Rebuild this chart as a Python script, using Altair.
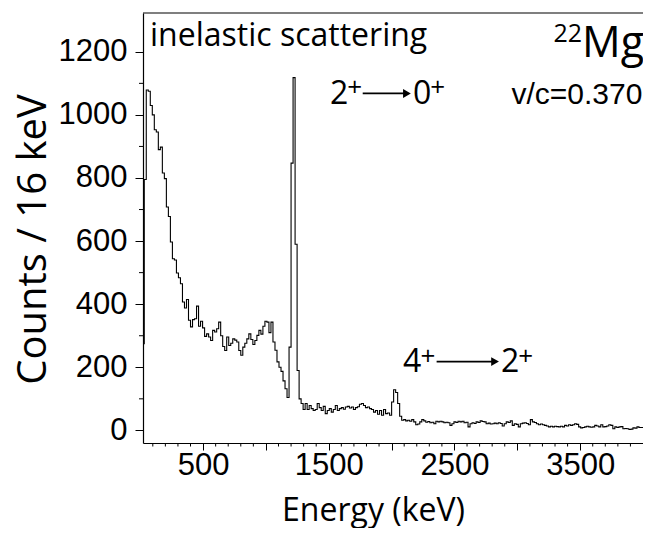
import json
import altair as alt
import pandas as pd

# ---------------- data ----------------
bin_width = 16          # keV per channel
first_edge = 16         # lower edge of the first channel (keV)
x_end = 4000

counts = [
    275, 795, 1079, 1075, 1030, 1000, 953, 946, 890, 898,
    816, 798, 708, 678, 597, 544, 540, 499, 484, 465,
    407, 388, 415, 349, 328, 351, 354, 394, 330, 346,
    325, 298, 306, 296, 285, 317, 312, 322, 343, 300,
    266, 253, 296, 269, 276, 290, 286, 280, 253, 238,
    264, 276, 290, 306, 288, 272, 285, 301, 317, 305,
    330, 346, 343, 310, 343, 280, 254, 217, 200, 187,
    157, 132, 104, 264, 847, 1118, 590, 190, 100, 85,
    66, 85, 66, 79, 69, 63, 66, 85, 72, 63,
    76, 53, 63, 69, 58, 66, 79, 63, 69, 72,
    67, 74, 76, 71, 74, 66, 72, 75, 83, 85,
    79, 72, 74, 69, 66, 58, 63, 51, 63, 48,
    66, 53, 55, 48, 90, 129, 120, 85, 45, 32,
    34, 30, 32, 29, 34, 27, 18, 20, 27, 34,
    30, 26, 28, 24, 26, 21, 29, 27, 29, 27,
    24, 26, 24, 16, 21, 27, 25, 29, 27, 29,
    24, 26, 11, 21, 24, 22, 27, 25, 30, 28,
    27, 21, 23, 20, 21, 23, 21, 24, 22, 14,
    21, 27, 25, 30, 16, 21, 19, 11, 21, 23,
    24, 22, 18, 34, 27, 25, 21, 18, 20, 18,
    16, 14, 11, 13, 11, 13, 12, 11, 13, 11,
    16, 14, 18, 16, 18, 21, 19, 11, 8, 9,
    11, 13, 11, 10, 11, 16, 14, 11, 18, 11,
    12, 14, 18, 16, 5, 11, 9, 11, 12, 5,
    6, 5, 3, 4, 8, 7, 11, 9, 9,
]

x_major_ticks = [500, 1000, 1500, 2000, 2500, 3000, 3500, 4000]
x_labels = [500, 1500, 2500, 3500]
x_minor_ticks = [v for v in range(100, 4000, 100) if v % 500 != 0]
y_major_ticks = [0, 200, 400, 600, 800, 1000, 1200]
y_minor_ticks = [100, 300, 500, 700, 900, 1100]

# annotation texts (position in keV / counts)
main_texts = pd.DataFrame({"t": ["2", "0", "4", "2"],
                           "E": [1510, 2170, 2090, 2870],
                           "C": [1036, 1036, 184, 184]})
sup_texts = pd.DataFrame({"t": ["+", "+", "+", "+"],
                          "E": [1648, 2308, 2229, 3008],
                          "C": [1059, 1059, 208, 208]})
arrows = pd.DataFrame({"E1": [1770, 2358], "E2": [2100, 2800], "C": [1068, 218]})
heads = pd.DataFrame({"E": [2122, 2823], "C": [1068, 218]})
label_text = pd.DataFrame({"t": ["inelastic scattering"], "E": [78], "C": [1217]})
mg_text = pd.DataFrame({"t": ["Mg"], "E": [3515], "C": [1185]})
iso_text = pd.DataFrame({"t": ["22"], "E": [3515], "C": [1230]})
vc_text = pd.DataFrame({"t": ["v/c=0.370"], "E": [3995], "C": [1033]})

# ---------------- chart ----------------
edges = [first_edge + bin_width * i for i in range(len(counts))] + [x_end]
vals = counts + [counts[-1]]
spec = pd.DataFrame({"E": edges, "C": vals})

W, H = 500, 430
xscale = alt.Scale(domain=[22, x_end], nice=False, zero=False)
yscale = alt.Scale(domain=[-40, 1323], nice=False, zero=False)

tick_font = "Liberation Sans"
title_font = "Open Sans"

x_axis = alt.Axis(
    values=x_major_ticks, format="d",
    labelExpr="indexof(%s, datum.value) >= 0 ? datum.label : ''" % json.dumps(x_labels),
    labelFont=tick_font, labelFontSize=31, labelColor="black", labelPadding=0,
    tickSize=7, tickColor="black", tickWidth=1, domainColor="black", domainWidth=1.2,
    grid=False, title="Energy (keV)", titleFont=title_font, titleFontSize=32,
    titleFontWeight="normal", titleColor="black", titleX=230, titleY=77,
    titleAlign="center", titleBaseline="alphabetic",
)
y_axis = alt.Axis(
    values=y_major_ticks, format="d",
    labelFont=tick_font, labelFontSize=31, labelColor="black", labelPadding=8,
    tickSize=8, tickColor="black", tickWidth=1, domainColor="black", domainWidth=1.2,
    grid=False, title="Counts / 16 keV", titleFont=title_font, titleFontSize=40,
    titleFontWeight="normal", titleColor="black", titleAngle=270,
    titleX=-98, titleY=226, titleAlign="center", titleBaseline="alphabetic",
)


def X(field):
    return alt.X(field, scale=xscale, axis=x_axis)


def Y(field):
    return alt.Y(field, scale=yscale, axis=y_axis)


line = alt.Chart(spec).mark_line(
    interpolate="step-after", color="black", strokeWidth=1.1, clip=True
).encode(x=X("E:Q"), y=Y("C:Q"))


def txt(df, font, size, align="left"):
    return alt.Chart(df).mark_text(
        font=font, fontSize=size, align=align, baseline="alphabetic", color="black"
    ).encode(x=X("E:Q"), y=Y("C:Q"), text="t:N")


t_label = txt(label_text, title_font, 32)
t_main = txt(main_texts, title_font, 32)
t_sup = txt(sup_texts, title_font, 26)
t_mg = txt(mg_text, title_font, 43)
t_iso = txt(iso_text, title_font, 25, align="right")
t_vc = txt(vc_text, tick_font, 30, align="right")

arrow_lines = alt.Chart(arrows).mark_rule(color="black", strokeWidth=1.8).encode(
    x=X("E1:Q"), x2="E2:Q", y=Y("C:Q"),
)
arrow_heads = alt.Chart(heads).mark_point(
    shape="triangle-right", filled=True, color="black", size=80, opacity=1
).encode(x=X("E:Q"), y=Y("C:Q"))

x_minor = alt.Chart(pd.DataFrame({"E": x_minor_ticks})).mark_rule(color="black").encode(
    x=X("E:Q"), y=alt.value(H), y2=alt.value(H + 3.5)
)
y_minor = alt.Chart(pd.DataFrame({"C": y_minor_ticks})).mark_rule(color="black").encode(
    y=Y("C:Q"), x=alt.value(0), x2=alt.value(-4)
)
top_border = alt.Chart(pd.DataFrame({"a": [0]})).mark_rule(color="black", strokeWidth=1.2).encode(
    x=alt.value(0), x2=alt.value(W), y=alt.value(0)
)

chart = alt.layer(
    line, x_minor, y_minor, top_border, arrow_lines, arrow_heads,
    t_label, t_main, t_sup, t_mg, t_iso, t_vc,
).properties(
    width=W, height=H,
    padding={"left": 135, "top": 5, "right": 0, "bottom": 85},
    autosize=alt.AutoSizeParams(type="none"),
    background="white",
).configure_view(stroke=None)

chart.save("out.html", embed_options={"renderer": "svg", "actions": False})
